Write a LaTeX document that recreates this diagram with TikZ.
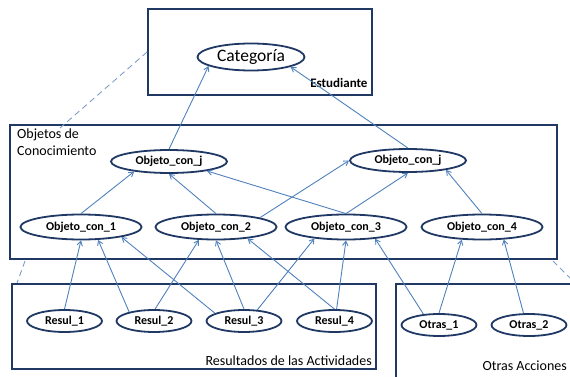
\documentclass[tikz,border=0pt]{standalone}
\usepackage{fontspec}
\setmainfont{Carlito}
\usetikzlibrary{arrows.meta,shapes.geometric}
\definecolor{navy}{HTML}{1F3864}
\definecolor{link}{HTML}{4F81BD}
\definecolor{guide}{HTML}{7F9EC6}

\begin{document}
\begin{tikzpicture}[x=1pt,y=-1pt,>={Straight Barb[length=4.5pt,width=5.5pt]},every node/.style={font=\fontsize{14}{17}\selectfont},grp/.style={draw=navy,line width=1.8pt,inner sep=0pt},topic/.style={ellipse,draw=navy,line width=1.8pt,inner sep=0pt,minimum width=107pt,minimum height=27pt,font=\fontsize{17.5}{20}\selectfont},obj/.style={ellipse,draw=navy,line width=1.8pt,inner sep=0pt,minimum width=121pt,minimum height=25pt,font=\fontsize{12}{14}\selectfont\bfseries},objj/.style={obj,minimum width=116pt,minimum height=23pt},res/.style={obj,minimum width=75pt,minimum height=22pt},lnk/.style={->,draw=link,line width=0.9pt},zoomline/.style={draw=guide,line width=0.9pt,dash pattern=on 6pt off 4pt}]
\clip (0,0) rectangle (570,377);
% grupos
\node[grp,minimum width=224pt,minimum height=86pt] (est) at (260,52) {};
\node[grp,minimum width=547pt,minimum height=134pt] (con) at (283.5,192) {};
\node[grp,minimum width=364pt,minimum height=85pt] (act) at (194,326.5) {};
\node[grp,minimum width=184pt,minimum height=106pt] (otr) at (488,337) {};
\node[anchor=east,font=\fontsize{13}{15}\selectfont\bfseries] (estl) at (371,83) {Estudiante};
\node[anchor=north west,align=left,inner sep=0pt] (conl) at (17,129) {Objetos de\\Conocimiento};
\node[anchor=east,inner sep=0pt] (actl) at (372,361) {Resultados de las Actividades};
\node[anchor=east,inner sep=0pt] (otrl) at (567,366) {Otras Acciones};
% nodos
\node[topic] (cat) at (251,57) {Categoría};
\node[objj] (ojl) at (169,161.5) {Objeto\_con\_j};
\node[objj] (ojr) at (408,160.5) {Objeto\_con\_j};
\node[obj] (oc1) at (81,227) {Objeto\_con\_1};
\node[obj] (oc2) at (216,227) {Objeto\_con\_2};
\node[obj] (oc3) at (346,227) {Objeto\_con\_3};
\node[obj] (oc4) at (482,227) {Objeto\_con\_4};
\node[res] (r1) at (64.5,321) {Resul\_1};
\node[res] (r2) at (154,321) {Resul\_2};
\node[res] (r3) at (244,321) {Resul\_3};
\node[res] (r4) at (334.5,321) {Resul\_4};
\node[res] (o1) at (439,325) {Otras\_1};
\node[res] (o2) at (529,325) {Otras\_2};
% lineas de detalle
\coordinate (g1) at (60,128);
\coordinate (g2a) at (25,261);\coordinate (g2b) at (17,283);
\coordinate (g3a) at (553,261);\coordinate (g3b) at (580,288);
\draw[zoomline] (est.west)--(g1);\draw[zoomline] (g2a)--(g2b);\draw[zoomline] (g3a)--(g3b);
% relaciones
\draw[lnk] (ojl.north)--(cat.192);\draw[lnk] (ojr.north)--(cat.346);
\draw[lnk] (oc1.north)--(ojl.196);\draw[lnk] (oc2.north)--(ojl.south);\draw[lnk] (oc3.north)--(ojl.346);
\draw[lnk] (oc2.12)--(ojr.west);\draw[lnk] (oc3.north)--(ojr.south);\draw[lnk] (oc4.north)--(ojr.346);
\draw[lnk] (r1.north)--(oc1.south);\draw[lnk] (r2.160)--(oc1.323);\draw[lnk] (r3.165)--(oc1.346);
\draw[lnk] (r2.85)--(oc2.217);\draw[lnk] (r3.north)--(oc2.south);\draw[lnk] (r4.north)--(oc2.340);
\draw[lnk] (r3.40)--(oc3.200);\draw[lnk] (r4.80)--(oc3.south);\draw[lnk] (o1.145)--(oc3.338);
\draw[lnk] (o1.north)--(oc4.212);\draw[lnk] (o2.115)--(oc4.330);
\end{tikzpicture}
\end{document}
